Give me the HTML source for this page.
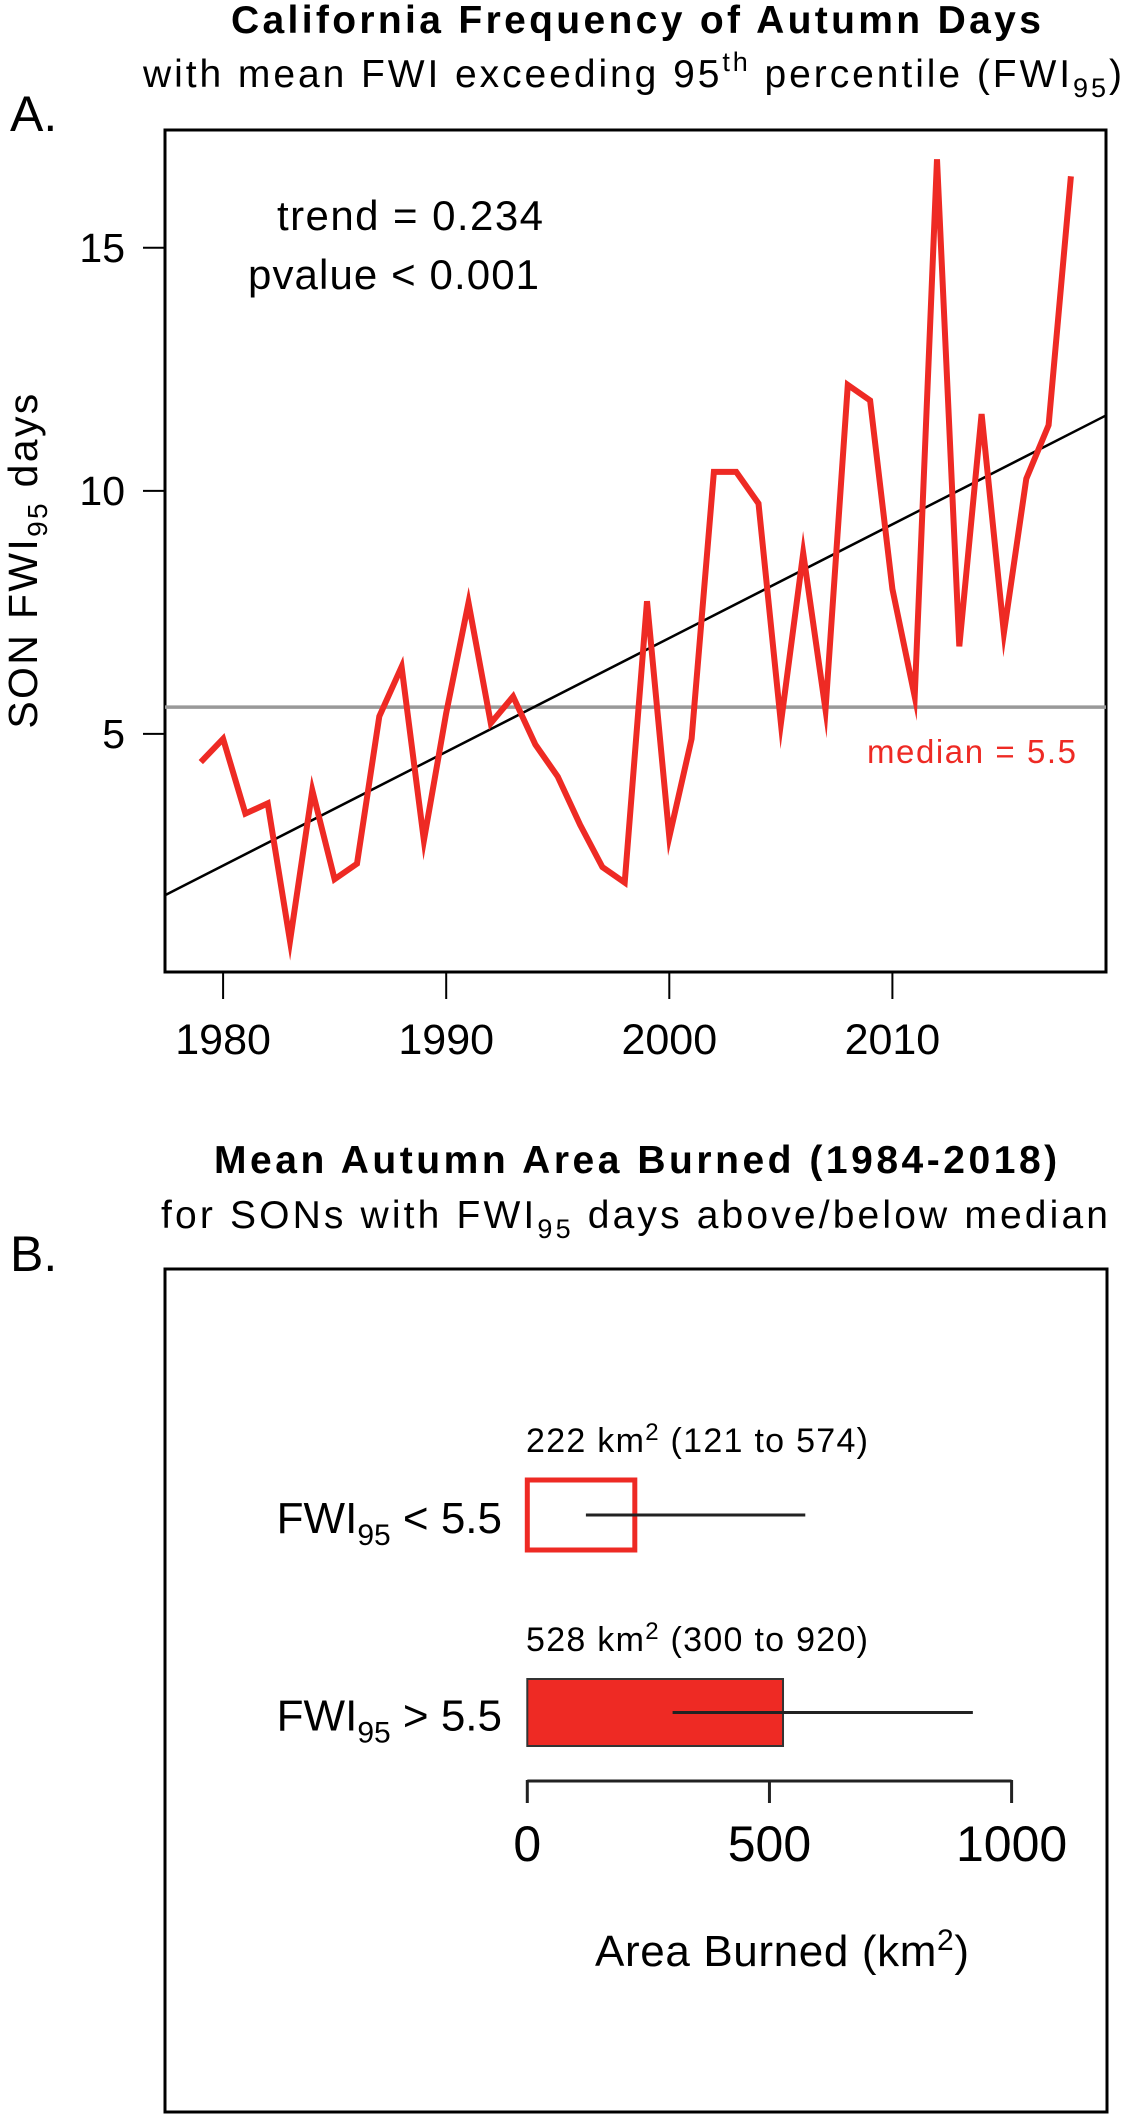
<!DOCTYPE html>
<html><head><meta charset="utf-8"><style>
html,body{margin:0;padding:0;background:#fff;}
svg{display:block;font-family:"Liberation Sans",Arial,sans-serif;}
</style></head><body>
<svg id="fig" width="1125" height="2114" viewBox="0 0 1125 2114">
<!-- Panel A titles -->
<text class="fit" data-w="810" x="231" y="33" font-size="39" font-weight="bold">California Frequency of Autumn Days</text>
<text class="fit" data-w="979" x="143" y="87" font-size="39">with mean FWI exceeding 95<tspan font-size="27" dy="-16">th</tspan><tspan dy="16"> percentile (FWI</tspan><tspan font-size="27" dy="10">95</tspan><tspan dy="-10">)</tspan></text>
<text x="10" y="131" font-size="50">A.</text>
<rect x="165" y="130" width="941" height="842" fill="none" stroke="#000" stroke-width="3"/>
<g id="gA"></g>
<text class="fit" data-w="266" x="277" y="230" font-size="42">trend = 0.234</text>
<text class="fit" data-w="291" x="248" y="289" font-size="42">pvalue &lt; 0.001</text>
<text class="fit" data-w="209" x="867" y="763" font-size="33" fill="#ee2a24">median = 5.5</text>
<text class="fit" data-w="335" transform="translate(37,560) rotate(-90)" text-anchor="middle" font-size="41">SON FWI<tspan font-size="28" dy="10">95</tspan><tspan dy="-10"> days</tspan></text>

<!-- Panel B -->
<text class="fit" data-w="843" x="214" y="1173" font-size="39" font-weight="bold">Mean Autumn Area Burned (1984-2018)</text>
<text class="fit" data-w="947" x="161" y="1228" font-size="39">for SONs with FWI<tspan font-size="27" dy="10">95</tspan><tspan dy="-10"> days above/below median</tspan></text>
<text x="10" y="1271" font-size="50">B.</text>
<rect x="165" y="1269" width="942" height="843" fill="none" stroke="#000" stroke-width="3"/>
<g id="gB"></g>
<text class="fit" data-w="374" x="595" y="1966" font-size="44">Area Burned (km<tspan font-size="30" dy="-16">2</tspan><tspan dy="16">)</tspan></text>
</svg>
<script>
const NS="http://www.w3.org/2000/svg";
const years=[1979,1980,1981,1982,1983,1984,1985,1986,1987,1988,1989,1990,1991,1992,1993,1994,1995,1996,1997,1998,1999,2000,2001,2002,2003,2004,2005,2006,2007,2008,2009,2010,2011,2012,2013,2014,2015,2016,2017,2018];
const fwiDays=[4.42,4.9,3.36,3.57,0.74,3.84,2.01,2.33,5.36,6.38,2.81,5.43,7.7,5.22,5.77,4.78,4.12,3.13,2.26,1.94,7.73,2.88,4.9,10.39,10.39,9.74,5.22,8.72,5.5,12.18,11.86,7.98,5.77,16.82,6.8,11.58,7.08,10.25,11.35,16.47];
const yTicks=[5,10,15];
const xTicks=[1980,1990,2000,2010];
const trendSlope=[0.234];
const trendAt1998=[6.62];
const medianVal=[5.55];
const xA=y=>223.1+(y-1980)*22.31;
const yA=v=>733.9-(v-5)*48.61;
function mk(tag,attrs,parent){const e=document.createElementNS(NS,tag);for(const k in attrs)e.setAttribute(k,attrs[k]);parent.appendChild(e);return e;}
const gA=document.getElementById('gA');
const x0=165,x1=1106;
const yr0=1980+(x0-223.1)/22.31,yr1=1980+(x1-223.1)/22.31;
let ml=mk('line',{x1:x0,x2:x1,y1:yA(medianVal[0]),y2:yA(medianVal[0]),stroke:'#999',"stroke-width":3.5},gA);


let tl=mk('line',{x1:x0,x2:x1,y1:yA(trendAt1998[0]+trendSlope[0]*(yr0-1998.5)),y2:yA(trendAt1998[0]+trendSlope[0]*(yr1-1998.5)),stroke:'#000',"stroke-width":2.5},gA);


let pts=years.map((y,i)=>xA(y).toFixed(1)+','+yA(fwiDays[i]).toFixed(1)).join(' ');
let pl=mk('polyline',{points:pts,fill:'none',stroke:'#ee2a24',"stroke-width":6,"stroke-linejoin":"miter","stroke-miterlimit":10},gA);


yTicks.forEach(v=>{
  let t=mk('line',{x1:143,x2:165,y1:yA(v),y2:yA(v),stroke:'#000',"stroke-width":2},gA);
  
  
  let l=mk('text',{x:125,y:yA(v)+14,"text-anchor":"end","font-size":41},gA);
  l.textContent=v;
  
  
});
xTicks.forEach(v=>{
  let t=mk('line',{x1:xA(v),x2:xA(v),y1:972,y2:999,stroke:'#000',"stroke-width":2},gA);
  
  
  let l=mk('text',{x:xA(v),y:1054,"text-anchor":"middle","font-size":43},gA);
  l.textContent=v;
  
  
});
const groups=['<','>'];
const means=[222,528];
const lows=[121,300];
const highs=[574,920];
const bTicks=[0,500,1000];
const xB=v=>527.3+v*0.4843;
const gB=document.getElementById('gB');
const barTop=[1480,1679],barH=[70,67];
groups.forEach((g,i)=>{
  let r;
  if(i===0){r=mk('rect',{x:xB(0),y:barTop[i],width:xB(means[i])-xB(0),height:barH[i],fill:'none',stroke:'#ee2a24',"stroke-width":5},gB);}
  else{r=mk('rect',{x:xB(0),y:barTop[i],width:xB(means[i])-xB(0),height:barH[i],fill:'#ee2a24',stroke:'#333',"stroke-width":2},gB);}
  
  
  const cy=barTop[i]+barH[i]/2;
  let e=mk('line',{x1:xB(lows[i]),x2:xB(highs[i]),y1:cy,y2:cy,stroke:'#222',"stroke-width":3},gB);
  
  
  let t=mk('text',{x:526,y:barTop[i]-28,"font-size":34,"class":"fit","data-w":342},gB);
  t.innerHTML=means[i]+' km<tspan font-size="24" dy="-12">2</tspan><tspan dy="12">  ('+lows[i]+' to '+highs[i]+')</tspan>';
  
  
  let c=mk('text',{x:502,y:cy+18,"text-anchor":"end","font-size":44},gB);
  c.innerHTML='FWI<tspan font-size="30" dy="12">95</tspan><tspan dy="-12"> '+(g==='<'?'&lt;':'&gt;')+' 5.5</tspan>';
  
  
});
let ax=mk('line',{x1:xB(0),x2:xB(1000),y1:1781,y2:1781,stroke:'#222',"stroke-width":3},gB);


bTicks.forEach(v=>{
  let t=mk('line',{x1:xB(v),x2:xB(v),y1:1780,y2:1803,stroke:'#222',"stroke-width":3},gB);
  
  
  let l=mk('text',{x:xB(v),y:1861,"text-anchor":"middle","font-size":50},gB);
  l.textContent=v;
  
  
});
// fit text widths via letter-spacing
document.querySelectorAll('text.fit').forEach(el=>{
  const w=parseFloat(el.getAttribute('data-w'));
  const len=el.getComputedTextLength();
  const n=el.getNumberOfChars();
  if(n>1){el.setAttribute('letter-spacing',((w-len)/(n-1)).toFixed(2));}
});
</script>
</body></html>
